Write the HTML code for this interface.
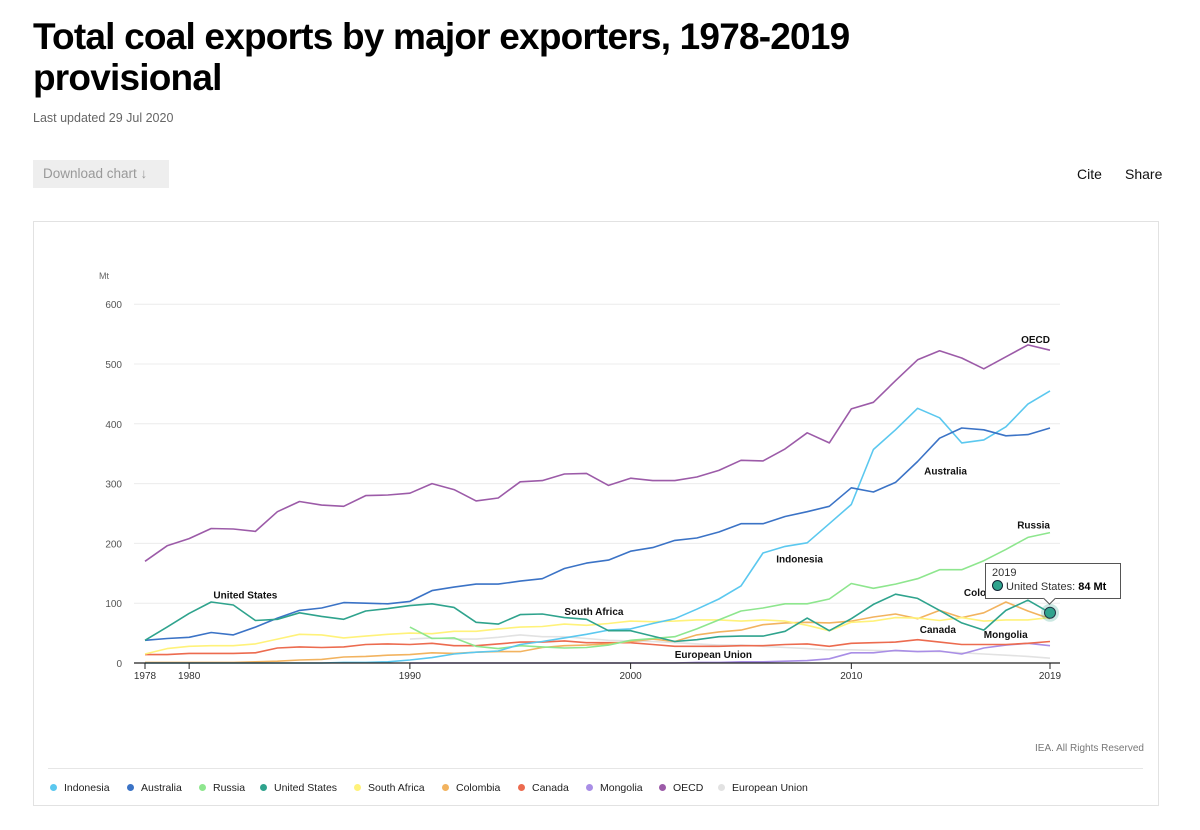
<!DOCTYPE html>
<html><head><meta charset="utf-8"><style>
body{margin:0;width:1200px;height:830px;background:#fff;font-family:"Liberation Sans",sans-serif;position:relative;overflow:hidden}
.abs{position:absolute}
h1{position:absolute;left:33px;top:16px;margin:0;font-size:37px;line-height:41px;font-weight:bold;color:#000;letter-spacing:-0.8px;width:900px}
.leg{position:absolute;top:782px;font-size:10.5px;color:#222;white-space:nowrap}
.leg i{display:inline-block;width:7px;height:7px;border-radius:50%;margin-right:7px;vertical-align:0px}
</style></head><body>
<h1>Total coal exports by major exporters, 1978-2019 provisional</h1>
<div class="abs" style="left:33px;top:111px;font-size:12.5px;color:#666">Last updated 29 Jul 2020</div>
<div class="abs" style="left:33px;top:160px;width:136px;height:28px;background:#eee;color:#999;font-size:13.5px;line-height:28px;text-indent:10px">Download chart ↓</div>
<div class="abs" style="left:1077px;top:166px;font-size:14px;color:#111">Cite</div>
<div class="abs" style="left:1125px;top:166px;font-size:14px;color:#111">Share</div>
<div class="abs" style="left:33px;top:221px;width:1126px;height:585px;border:1px solid #e2e2e2;box-sizing:border-box"></div>
<svg class="abs" id="chart" style="left:0;top:0" width="1200" height="830"></svg>
<div class="abs" style="left:1035px;top:743px;font-size:10px;color:#777">IEA. All Rights Reserved</div>
<div class="abs" style="left:48px;top:768px;width:1095px;height:1px;background:#e6e6e6"></div>
<div class="leg" style="left:50px"><i style="background:#5bc8ef"></i>Indonesia</div>
<div class="leg" style="left:127px"><i style="background:#3b73c6"></i>Australia</div>
<div class="leg" style="left:199px"><i style="background:#8ee68e"></i>Russia</div>
<div class="leg" style="left:260px"><i style="background:#2fa38d"></i>United States</div>
<div class="leg" style="left:354px"><i style="background:#fff27a"></i>South Africa</div>
<div class="leg" style="left:442px"><i style="background:#f2b35f"></i>Colombia</div>
<div class="leg" style="left:518px"><i style="background:#ec6b4f"></i>Canada</div>
<div class="leg" style="left:586px"><i style="background:#a98ee6"></i>Mongolia</div>
<div class="leg" style="left:659px"><i style="background:#9c5ba8"></i>OECD</div>
<div class="leg" style="left:718px"><i style="background:#e2e2e2"></i>European Union</div>
<div class="abs" style="left:985px;top:563px;width:136px;height:36px;border:1px solid #555;background:#fff;box-sizing:border-box;font-size:11px;color:#333;padding:3px 0 0 6px;line-height:13px;z-index:2">2019<br><span style="display:inline-block;width:9px;height:9px;border-radius:50%;background:#2fa38d;border:1px solid #123;vertical-align:-1px"></span> United States: <b style="color:#000">84 Mt</b></div>
<div class="abs" style="left:1045px;top:594px;width:8px;height:8px;background:#fff;border-right:1px solid #555;border-bottom:1px solid #555;transform:rotate(45deg);z-index:3"></div>
<script>
const years=[];for(let y=1978;y<=2019;y++)years.push(y);
const yTicks=[0,100,200,300,400,500,600];
const xTicks=[1978,1980,1990,2000,2010,2019];
const oecd=[170,196,208,225,224,220,253,270,264,262,280,281,284,300,290,271,276,303,305,316,317,297,309,305,305,311,322,339,338,358,385,368,425,436,472,507,522,510,492,512,532,523];
const australia=[38,41,43,51,47,60,75,88,92,101,100,99,103,121,127,132,132,137,141,158,167,172,187,193,205,209,219,233,233,245,253,262,293,286,302,337,376,393,390,380,382,393];
const indonesia=[0,0,0,0,0,0,0,0,0,1,1,2,5,9,15,18,20,31,36,42,48,55,57,66,74,90,107,129,184,195,201,233,265,357,390,426,410,368,373,395,433,455];
const russia=[null,null,null,null,null,null,null,null,null,null,null,null,60,41,42,28,24,29,27,25,26,30,38,41,44,57,72,87,92,99,99,107,133,125,132,141,156,156,171,190,210,218];
const unitedStates=[38,60,83,102,97,71,73,84,78,73,87,91,96,99,93,68,65,81,82,76,73,54,54,45,36,39,44,45,45,53,75,54,74,98,115,108,88,67,55,88,105,84];
const southAfrica=[15,24,28,29,29,32,40,48,47,42,45,48,50,49,53,53,57,60,61,65,63,66,70,69,70,72,72,70,72,70,63,54,68,70,76,75,71,76,70,72,72,76];
const colombia=[1,1,1,1,1,2,3,5,6,10,11,13,14,17,16,18,19,19,26,29,30,32,36,40,36,47,52,55,64,67,68,67,70,77,82,74,88,76,84,102,87,74];
const canada=[14,14,16,16,16,17,25,27,26,27,31,32,31,33,29,29,32,35,35,37,34,34,34,31,28,28,28,29,29,31,32,28,33,34,35,39,35,31,31,31,33,36];
const mongolia=[null,null,null,null,null,null,null,null,null,null,null,null,0,0,0,0,0,0,0,0,0,0,0,0,0,1,1,2,2,3,4,7,17,17,21,19,20,15,25,30,33,29];
const eu=[null,null,null,null,null,null,null,null,null,null,null,null,40,42,40,40,43,47,44,44,41,38,37,36,34,32,30,30,28,26,24,22,22,21,20,19,19,17,15,13,11,8];
const series=[
 ['european-union',eu,'#e2e2e2'],['mongolia',mongolia,'#a98ee6'],['canada',canada,'#ec6b4f'],['colombia',colombia,'#f2b35f'],
 ['south-africa',southAfrica,'#fff27a'],['russia',russia,'#8ee68e'],['indonesia',indonesia,'#5bc8ef'],['australia',australia,'#3b73c6'],
 ['united-states',unitedStates,'#2fa38d'],['oecd',oecd,'#9c5ba8']];
const labels=[['OECD',2019,535,'end'],['Australia',2013.3,315,'start'],['Russia',2019,225,'end'],['Indonesia',2006.6,168,'start'],['United States',1981.1,108,'start'],['South Africa',1997,80,'start'],['Colombia',2015.1,112,'start'],['Canada',2013.1,50,'start'],['Mongolia',2016,42,'start'],['European Union',2002,8,'start']];
const x=y=>145+(y-1978)*(905/41);
const yv=v=>663-v*0.598;
const svg=document.getElementById('chart');const NS='http://www.w3.org/2000/svg';
function mk(t,a){const e=document.createElementNS(NS,t);for(const k in a)e.setAttribute(k,a[k]);svg.appendChild(e);return e;}
let t=mk('text',{x:99,y:279,'font-size':9,fill:'#666'});t.textContent='Mt';


yTicks.forEach(v=>{
 if(v>0){const g=mk('line',{x1:134,x2:1060,y1:yv(v),y2:yv(v),stroke:'#ececec'});
 
 }
 const l=mk('text',{x:122,y:yv(v)+4,'font-size':10,fill:'#555','text-anchor':'end'});l.textContent=v;
 
 
});
series.forEach(s=>{
 let d='';let pen=false;
 s[1].forEach((v,i)=>{if(v===null){pen=false;return;}d+=(pen?'L':'M')+x(years[i]).toFixed(1)+','+yv(v).toFixed(1);pen=true;});
 const p=mk('path',{d:d,fill:'none',stroke:s[2],'stroke-width':1.6,'stroke-linejoin':'round'});
 
 
});
const ax=mk('line',{x1:134,x2:1060,y1:663,y2:663,stroke:'#222','stroke-width':1.3});


xTicks.forEach(yr=>{
 const tk=mk('line',{x1:x(yr),x2:x(yr),y1:663,y2:669,stroke:'#222'});
 
 
 const l=mk('text',{x:x(yr),y:679,'font-size':10,fill:'#333','text-anchor':'middle'});l.textContent=yr;
 
 
});
labels.forEach(L=>{
 const l=mk('text',{x:x(L[1]),y:yv(L[2]),'font-size':10,'font-weight':'bold',fill:'#111','text-anchor':L[3]});l.textContent=L[0];
 
 
});
const last=unitedStates[unitedStates.length-1];
const halo=mk('circle',{cx:x(2019),cy:yv(last),r:9,fill:'#2fa38d','fill-opacity':0.25});


const c=mk('circle',{cx:x(2019),cy:yv(last),r:5.5,fill:'#2fa38d',stroke:'#234','stroke-width':1});


</script>
</body></html>
